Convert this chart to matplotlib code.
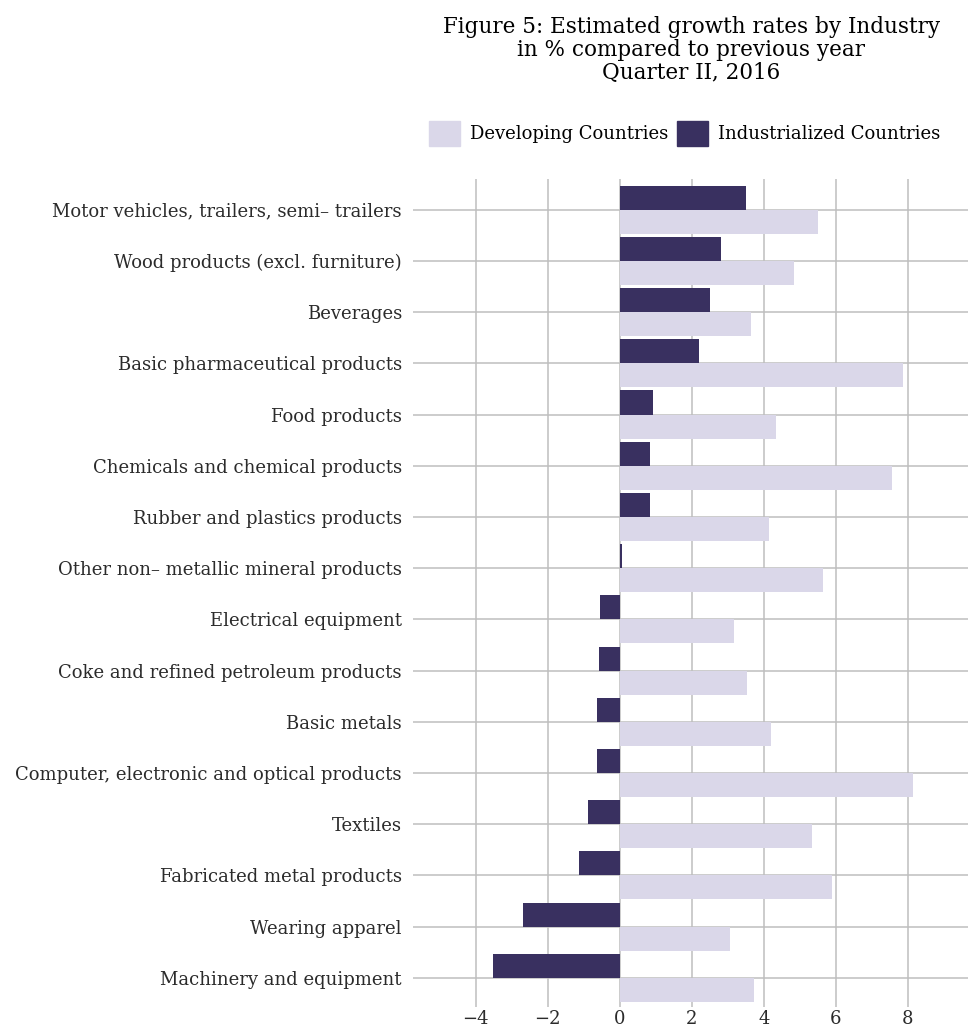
import numpy as np
import matplotlib
matplotlib.use("Agg")
import matplotlib.pyplot as plt
from matplotlib.patches import Patch

# data (top to bottom)
industries = [
    "Motor vehicles, trailers, semi\u2013 trailers",
    "Wood products (excl. furniture)",
    "Beverages",
    "Basic pharmaceutical products",
    "Food products",
    "Chemicals and chemical products",
    "Rubber and plastics products",
    "Other non\u2013 metallic mineral products",
    "Electrical equipment",
    "Coke and refined petroleum products",
    "Basic metals",
    "Computer, electronic and optical products",
    "Textiles",
    "Fabricated metal products",
    "Wearing apparel",
    "Machinery and equipment",
]
developing = [5.51, 4.84, 3.65, 7.87, 4.34, 7.56, 4.15, 5.65,
              3.18, 3.54, 4.21, 8.15, 5.34, 5.89, 3.06, 3.73]
industrialized = [3.51, 2.81, 2.51, 2.20, 0.92, 0.84, 0.84, 0.06,
                  -0.55, -0.58, -0.64, -0.64, -0.88, -1.13, -2.69, -3.52]
xticks = [-4, -2, 0, 2, 4, 6, 8]

dev_color = "#DAD7E9"
ind_color = "#393060"
grid_color = "#BEBEBE"

plt.rcParams['font.family'] = ['DejaVu Serif']

fig = plt.figure(figsize=(9.68, 10.36), dpi=100)
ax = fig.add_axes([0.4267, 0.028, 0.5733, 0.7992])

y = np.arange(len(industries))
h = 0.47
ax.barh(y - h / 2, industrialized, height=h, color=ind_color, zorder=3)
ax.barh(y + h / 2, developing, height=h, color=dev_color, zorder=3)

ax.set_xlim(-5.74, 9.67)
ax.set_ylim(15.57, -0.6)
ax.set_xticks(xticks)
ax.set_xticklabels([str(t).replace("-", "\u2212") for t in xticks])
ax.set_yticks(y)
ax.set_yticklabels(industries)

ax.grid(True, color=grid_color, linewidth=1.1, zorder=0)
for s in ax.spines.values():
    s.set_visible(False)
ax.tick_params(axis='both', length=0, labelsize=13)
ax.tick_params(axis='y', pad=8)
ax.tick_params(axis='x', pad=2)
for lab in ax.get_xticklabels() + ax.get_yticklabels():
    lab.set_color("#2b2b2b")

fig.text(0.714, 0.985,
         "Figure 5: Estimated growth rates by Industry\n"
         "in % compared to previous year\nQuarter II, 2016",
         ha='center', va='top', fontsize=15.5, linespacing=1.07)

handles = [Patch(color=dev_color, label="Developing Countries"),
           Patch(color=ind_color, label="Industrialized Countries")]
fig.legend(handles=handles, loc='center', bbox_to_anchor=(0.707, 0.871),
           ncol=2, frameon=False, fontsize=13, handlelength=1.7,
           handleheight=1.8, handletextpad=0.55, columnspacing=0.5)

fig.savefig("out.png", dpi=100)
